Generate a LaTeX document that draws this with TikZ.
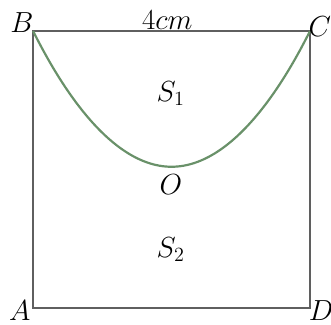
\documentclass[tikz,border=0pt]{standalone}
\usepackage{amsmath,amssymb}
\usepackage{tikz}
\usetikzlibrary{positioning}

\definecolor{sidegray}{RGB}{95,95,95}
\definecolor{curvegreen}{RGB}{105,145,105}

\begin{document}
\begin{tikzpicture}[
  x=1.449cm, y=1.449cm,
  font=\fontsize{18}{21}\selectfont,
  side/.style={draw=sidegray, line width=1.5pt},
  curve/.style={draw=curvegreen, line width=1.3pt},
  lbl/.style={inner sep=1pt}
]
\useasboundingbox (-0.477,-0.231) rectangle (4.303,4.448);
\coordinate (A) at (0,0);
\coordinate (B) at (0,4);
\coordinate (C) at (4,4);
\coordinate (D) at (4,0);
\coordinate (O) at (2,2.04);

\draw[side] (A) -- (B) -- (C) -- (D) -- cycle;
\draw[curve] (B) parabola bend (O) (C);

\node[lbl] (labB) at (-0.16,4.12) {$B$};
\node[lbl] (labC) at (4.14,4.06) {$C$};
\node[lbl] (labA) at (-0.19,-0.03) {$A$};
\node[lbl] (labD) at (4.16,-0.03) {$D$};
\node[lbl] (labO) at (1.99,1.78) {$O$};
\node[lbl] (len) at (1.94,4.16) {$4cm$};
\node[lbl] (s1) at (1.99,3.10) {$S_1$};
\node[lbl] (s2) at (1.99,0.84) {$S_2$};
\end{tikzpicture}
\end{document}
